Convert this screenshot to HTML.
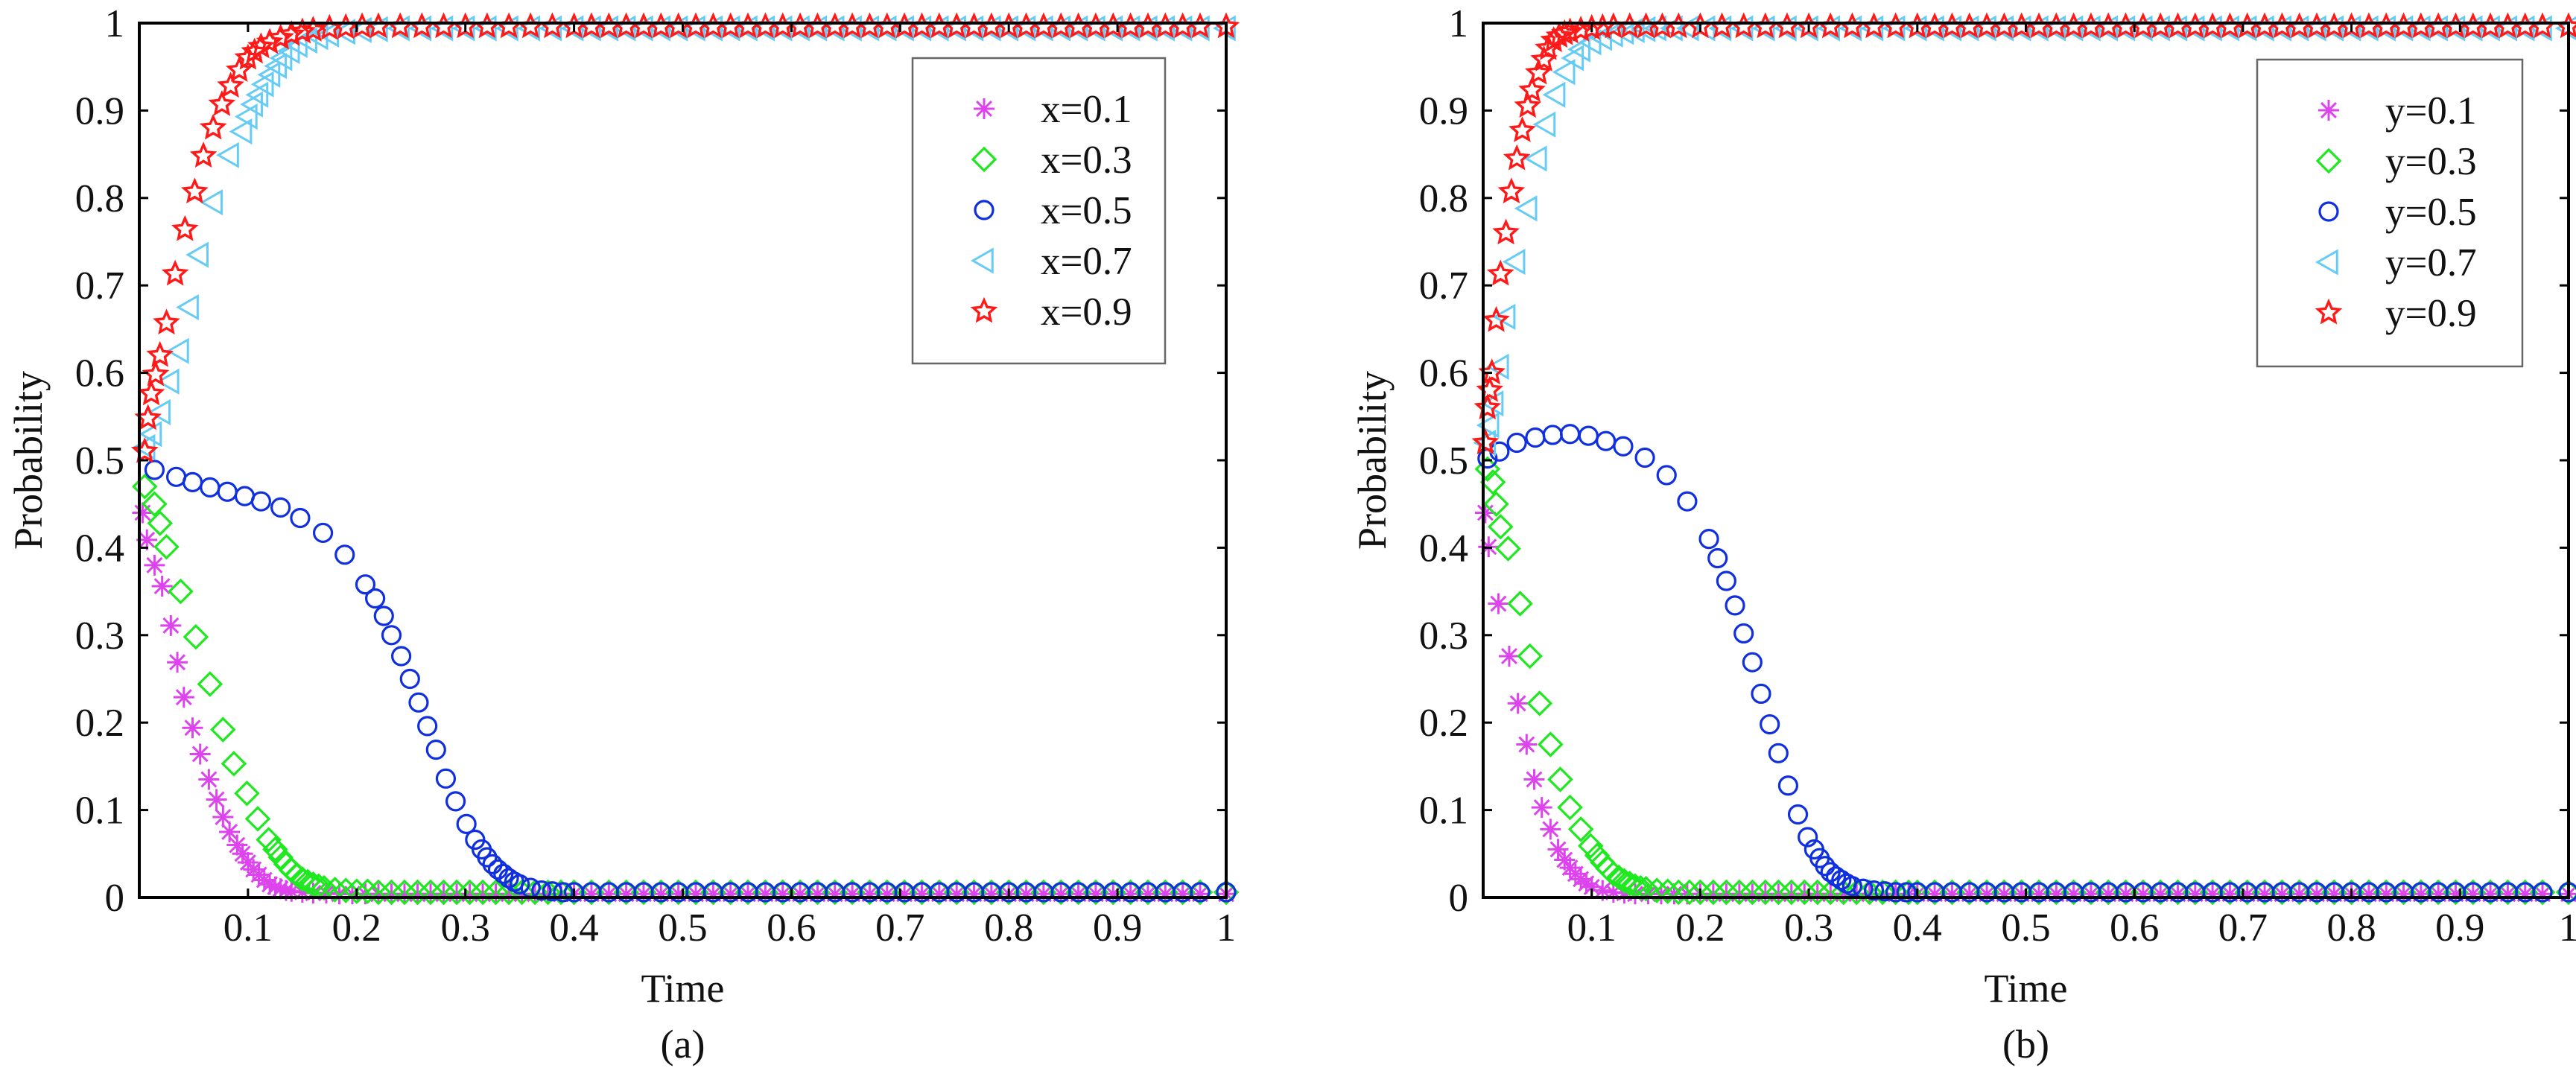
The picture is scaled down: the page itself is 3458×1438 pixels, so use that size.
<!DOCTYPE html>
<html><head><meta charset="utf-8"><style>
html,body{margin:0;padding:0;background:#fff;}
svg{display:block;font-family:"Liberation Serif","Times New Roman",serif;}
</style></head><body>
<svg id="fig" width="3458" height="1438" viewBox="0 0 3458 1438" xmlns="http://www.w3.org/2000/svg">
<rect width="3458" height="1438" fill="#fff"/>
<g id="panelA"></g>
<g id="panelB"></g>
</svg>
<script>
// ---- shared axis ticks ----
const xTicks = [0.1,0.2,0.3,0.4,0.5,0.6,0.7,0.8,0.9,1];
const xTickLabels = ["0.1","0.2","0.3","0.4","0.5","0.6","0.7","0.8","0.9","1"];
const yTicks = [0,0.1,0.2,0.3,0.4,0.5,0.6,0.7,0.8,0.9,1];
const yTickLabels = ["0","0.1","0.2","0.3","0.4","0.5","0.6","0.7","0.8","0.9","1"];
const tailTimes = [0.400,0.416,0.432,0.448,0.464,0.480,0.496,0.512,0.528,0.544,0.560,0.576,0.592,0.608,0.624,0.640,0.656,0.672,0.688,0.704,0.720,0.736,0.752,0.768,0.784,0.800,0.816,0.832,0.848,0.864,0.880,0.896,0.912,0.928,0.944,0.960,0.976,1.000];

// ---- panel (a) data ----
const aLabels = ["x=0.1","x=0.3","x=0.5","x=0.7","x=0.9"];
const aT01 = [0.003,0.007,0.014,0.021,0.029,0.035,0.041,0.049,0.056,0.064,0.071,0.077,0.083,0.09,0.095,0.1,0.105,0.11,0.115,0.12,0.125,0.13,0.135,0.14,0.15,0.16,0.172,0.184,0.196,0.208,0.22,0.232,0.244,0.256,0.268,0.28,0.292,0.304,0.316,0.328,0.34,0.352,0.364,0.376,0.388];
const aP01 = [0.44,0.409,0.38,0.356,0.311,0.269,0.229,0.194,0.164,0.135,0.112,0.092,0.075,0.06,0.05,0.04,0.032,0.026,0.02,0.015,0.012,0.01,0.008,0.007,0.006,0.005,0.005,0.004,0.004,0.004,0.004,0.004,0.004,0.004,0.004,0.004,0.004,0.004,0.004,0.004,0.004,0.004,0.004,0.004,0.004];
const aTail01 = 0.004;
const aT03 = [0.005,0.014,0.019,0.025,0.038,0.052,0.065,0.077,0.087,0.099,0.109,0.119,0.125,0.13,0.135,0.14,0.145,0.15,0.155,0.16,0.165,0.17,0.18,0.19,0.2,0.21,0.22,0.232,0.244,0.256,0.268,0.28,0.292,0.304,0.316,0.328,0.34,0.352,0.364,0.376,0.388];
const aP03 = [0.47,0.45,0.428,0.401,0.35,0.298,0.244,0.192,0.153,0.119,0.09,0.066,0.055,0.046,0.038,0.031,0.026,0.021,0.018,0.015,0.013,0.011,0.009,0.008,0.007,0.007,0.006,0.006,0.006,0.006,0.006,0.006,0.006,0.006,0.006,0.006,0.006,0.006,0.006,0.006,0.006];
const aTail03 = 0.006;
const aT05 = [0.014,0.034,0.049,0.065,0.081,0.097,0.112,0.13,0.148,0.169,0.189,0.208,0.217,0.225,0.232,0.241,0.249,0.257,0.265,0.273,0.282,0.291,0.301,0.309,0.315,0.32,0.325,0.33,0.335,0.34,0.345,0.35,0.36,0.37,0.38,0.39];
const aP05 = [0.489,0.481,0.475,0.469,0.464,0.459,0.453,0.446,0.434,0.417,0.392,0.358,0.342,0.322,0.3,0.276,0.25,0.223,0.196,0.169,0.136,0.11,0.084,0.066,0.055,0.046,0.038,0.032,0.027,0.022,0.018,0.015,0.011,0.008,0.007,0.006];
const aTail05 = 0.006;
const aT07 = [0.006,0.012,0.02,0.028,0.037,0.046,0.055,0.068,0.083,0.095,0.1,0.105,0.11,0.115,0.121,0.127,0.132,0.139,0.146,0.155,0.165,0.175,0.19,0.205,0.22,0.24,0.26,0.28,0.3,0.32,0.34,0.36,0.38];
const aP07 = [0.515,0.53,0.555,0.59,0.625,0.675,0.735,0.795,0.849,0.876,0.893,0.907,0.918,0.93,0.941,0.951,0.96,0.968,0.975,0.98,0.984,0.987,0.99,0.992,0.993,0.994,0.994,0.994,0.994,0.994,0.994,0.994,0.994];
const aTail07 = 0.994;
const aT09 = [0.005,0.008,0.011,0.015,0.019,0.025,0.033,0.042,0.051,0.059,0.068,0.076,0.084,0.092,0.1,0.106,0.112,0.12,0.13,0.14,0.15,0.16,0.175,0.19,0.205,0.22,0.24,0.26,0.28,0.3,0.32,0.34,0.36,0.38];
const aP09 = [0.51,0.548,0.576,0.598,0.62,0.657,0.713,0.764,0.807,0.848,0.88,0.907,0.928,0.946,0.96,0.967,0.973,0.978,0.983,0.987,0.99,0.992,0.994,0.995,0.996,0.996,0.996,0.996,0.996,0.996,0.996,0.996,0.996,0.996];
const aTail09 = 0.996;

// ---- panel (b) data ----
const bLabels = ["y=0.1","y=0.3","y=0.5","y=0.7","y=0.9"];
const bT01 = [0.002,0.005,0.014,0.024,0.032,0.04,0.047,0.054,0.062,0.069,0.075,0.08,0.085,0.09,0.095,0.1,0.11,0.12,0.13,0.14,0.152,0.164,0.176,0.188,0.2,0.212,0.224,0.236,0.248,0.26,0.272,0.284,0.296,0.308,0.32,0.332,0.344,0.356,0.368,0.38,0.392];
const bP01 = [0.44,0.401,0.336,0.276,0.222,0.175,0.135,0.103,0.078,0.055,0.043,0.034,0.027,0.021,0.016,0.012,0.008,0.006,0.005,0.004,0.004,0.004,0.004,0.004,0.004,0.004,0.004,0.004,0.004,0.004,0.004,0.004,0.004,0.004,0.004,0.004,0.004,0.004,0.004,0.004,0.004];
const bTail01 = 0.004;
const bT03 = [0.004,0.009,0.012,0.016,0.023,0.034,0.043,0.052,0.062,0.071,0.08,0.09,0.099,0.105,0.11,0.115,0.12,0.125,0.13,0.135,0.14,0.145,0.15,0.16,0.17,0.18,0.19,0.2,0.212,0.224,0.236,0.248,0.26,0.272,0.284,0.296,0.308,0.32,0.332,0.344,0.356,0.368,0.38,0.392];
const bP03 = [0.49,0.475,0.45,0.424,0.399,0.336,0.276,0.222,0.175,0.135,0.103,0.078,0.059,0.048,0.04,0.033,0.027,0.023,0.019,0.016,0.013,0.011,0.01,0.008,0.007,0.006,0.006,0.006,0.006,0.006,0.006,0.006,0.006,0.006,0.006,0.006,0.006,0.006,0.006,0.006,0.006,0.006,0.006,0.006];
const bTail03 = 0.006;
const bT05 = [0.004,0.015,0.031,0.048,0.064,0.08,0.097,0.113,0.129,0.149,0.169,0.188,0.208,0.216,0.224,0.232,0.24,0.248,0.256,0.264,0.272,0.281,0.29,0.299,0.305,0.31,0.315,0.32,0.325,0.33,0.335,0.34,0.35,0.36,0.37,0.38,0.39];
const bP05 = [0.502,0.51,0.52,0.526,0.529,0.53,0.528,0.522,0.516,0.503,0.483,0.453,0.41,0.388,0.362,0.334,0.302,0.269,0.233,0.198,0.165,0.128,0.095,0.069,0.055,0.045,0.036,0.029,0.024,0.02,0.016,0.013,0.01,0.008,0.007,0.006,0.006];
const bTail05 = 0.006;
const bT07 = [0.003,0.006,0.01,0.015,0.021,0.03,0.041,0.05,0.058,0.067,0.076,0.084,0.09,0.1,0.11,0.12,0.13,0.14,0.15,0.16,0.175,0.19,0.205,0.22,0.24,0.26,0.28,0.3,0.32,0.34,0.36,0.38];
const bP07 = [0.52,0.54,0.565,0.607,0.664,0.727,0.788,0.845,0.884,0.918,0.944,0.96,0.97,0.978,0.983,0.987,0.99,0.992,0.993,0.994,0.994,0.994,0.994,0.994,0.994,0.994,0.994,0.994,0.994,0.994,0.994,0.994];
const bTail07 = 0.994;
const bT09 = [0.002,0.004,0.006,0.008,0.012,0.016,0.021,0.026,0.031,0.036,0.041,0.045,0.051,0.056,0.06,0.065,0.07,0.075,0.08,0.09,0.1,0.11,0.12,0.135,0.15,0.165,0.18,0.2,0.22,0.24,0.26,0.28,0.3,0.32,0.34,0.36,0.38];
const bP09 = [0.52,0.56,0.58,0.6,0.66,0.713,0.76,0.807,0.845,0.877,0.905,0.923,0.943,0.958,0.971,0.98,0.985,0.988,0.99,0.992,0.994,0.995,0.996,0.996,0.996,0.996,0.996,0.996,0.996,0.996,0.996,0.996,0.996,0.996,0.996,0.996,0.996];
const bTail09 = 0.996;

const colors = ["#dd44ee","#1ee81e","#1030e0","#66ccf5","#ff1a1a"];
const markers = ["asterisk","diamond","circle","triangle","star"];
const NS = "http://www.w3.org/2000/svg";

function mk(tag, attrs, parent){
  const e = document.createElementNS(NS, tag);
  for (const k in attrs) e.setAttribute(k, attrs[k]);
  parent.appendChild(e);
  return e;
}

function drawMarker(kind, cx, cy, color, parent){
  let e;
  if (kind === "circle") {
    e = mk("circle", {cx:cx, cy:cy, r:12, fill:"none", stroke:color, "stroke-width":3.2}, parent);
  } else if (kind === "diamond") {
    const s = 15;
    e = mk("polygon", {points:`${cx},${cy-s} ${cx+s},${cy} ${cx},${cy+s} ${cx-s},${cy}`, fill:"none", stroke:color, "stroke-width":3.2}, parent);
  } else if (kind === "triangle") {
    const s = 15;
    e = mk("polygon", {points:`${cx-s},${cy} ${cx+s*0.75},${cy-s} ${cx+s*0.75},${cy+s}`, fill:"none", stroke:color, "stroke-width":3}, parent);
  } else if (kind === "star") {
    let pts = [];
    for (let i=0;i<10;i++){
      const r = i%2===0 ? 15 : 7;
      const a = -Math.PI/2 + i*Math.PI/5;
      pts.push((cx + r*Math.cos(a)).toFixed(1)+","+(cy + r*Math.sin(a)).toFixed(1));
    }
    e = mk("polygon", {points:pts.join(" "), fill:"none", stroke:color, "stroke-width":3.4, "stroke-linejoin":"miter"}, parent);
  } else {
    const s = 14, d = s*0.707;
    e = mk("path", {d:`M${cx-s},${cy}H${cx+s}M${cx},${cy-s}V${cy+s}M${cx-d},${cy-d}L${cx+d},${cy+d}M${cx-d},${cy+d}L${cx+d},${cy-d}`, stroke:color, "stroke-width":3, fill:"none"}, parent);
  }
  return e;
}

function drawPanel(g, box, labels, seriesT, seriesP, tails, legendBox, caption){
  const xs = t => box.x0 + (box.x1 - box.x0) * t;
  const ys = p => box.y1 - (box.y1 - box.y0) * p;

  // series
  for (let s=0; s<seriesT.length; s++){
    const sg = mk("g", {}, g);
    
    
    const T = seriesT[s], P = seriesP[s];
    for (let i=0;i<T.length;i++){
      const m = drawMarker(markers[s], xs(T[i]), ys(P[i]), colors[s], sg);
      
      
    }
    for (let i=0;i<tailTimes.length;i++){
      const m = drawMarker(markers[s], xs(tailTimes[i]), ys(tails[s]), colors[s], sg);
      
      
    }
  }

  // white mask outside axes so markers get clipped like matlab
  const ax = mk("g", {}, g);
  
  
  mk("rect", {x:box.x0, y:box.y0, width:box.x1-box.x0, height:box.y1-box.y0, fill:"none", stroke:"#000", "stroke-width":4}, ax);

  // ticks
  for (let i=0;i<xTicks.length;i++){
    const x = xs(xTicks[i]);
    if (xTicks[i] < 1) {
      mk("line", {x1:x, y1:box.y1, x2:x, y2:box.y1-12, stroke:"#000", "stroke-width":3}, ax);
      mk("line", {x1:x, y1:box.y0, x2:x, y2:box.y0+12, stroke:"#000", "stroke-width":3}, ax);
    }
    const t = mk("text", {x:x, y:box.y1+58, "text-anchor":"middle", "font-size":53, fill:"#111"}, ax);
    t.textContent = xTickLabels[i];
    
    
  }
  for (let i=0;i<yTicks.length;i++){
    const y = ys(yTicks[i]);
    if (yTicks[i] > 0 && yTicks[i] < 1) {
      mk("line", {x1:box.x0, y1:y, x2:box.x0+12, y2:y, stroke:"#000", "stroke-width":3}, ax);
      mk("line", {x1:box.x1, y1:y, x2:box.x1-12, y2:y, stroke:"#000", "stroke-width":3}, ax);
    }
    const t = mk("text", {x:box.x0-20, y:y+18, "text-anchor":"end", "font-size":53, fill:"#111"}, ax);
    t.textContent = yTickLabels[i];
    
    
  }

  const xt = mk("text", {x:(box.x0+box.x1)/2, y:box.y1+140, "text-anchor":"middle", "font-size":54, fill:"#111"}, g);
  xt.textContent = "Time";
  
  
  const yt = mk("text", {x:0, y:0, "text-anchor":"middle", "font-size":54, fill:"#111", transform:`translate(${box.x0-131},${(box.y0+box.y1)/2}) rotate(-90)`}, g);
  yt.textContent = "Probability";
  
  
  const cap = mk("text", {x:(box.x0+box.x1)/2, y:box.y1+215, "text-anchor":"middle", "font-size":54, fill:"#111"}, g);
  cap.textContent = caption;
  
  

  // legend
  const lg = mk("g", {}, g);
  
  
  mk("rect", {x:legendBox.x, y:legendBox.y, width:legendBox.w, height:legendBox.h, fill:"#fff", stroke:"#666", "stroke-width":2.5}, lg);
  for (let s=0;s<labels.length;s++){
    const cy = legendBox.y + 68 + s*68;
    const le = mk("g", {}, lg);
    
    
    drawMarker(markers[s], legendBox.x + 96, cy, colors[s], le);
    const t = mk("text", {x:legendBox.x + 172, y:cy+18, "font-size":53, fill:"#111"}, le);
    t.textContent = labels[s];
  }
}

drawPanel(document.getElementById("panelA"),
  {x0:187, x1:1646, y0:31, y1:1205},
  aLabels, [aT01,aT03,aT05,aT07,aT09], [aP01,aP03,aP05,aP07,aP09],
  [aTail01,aTail03,aTail05,aTail07,aTail09],
  {x:1225, y:78, w:339, h:410}, "(a)");

drawPanel(document.getElementById("panelB"),
  {x0:1991, x1:3448, y0:31, y1:1205},
  bLabels, [bT01,bT03,bT05,bT07,bT09], [bP01,bP03,bP05,bP07,bP09],
  [bTail01,bTail03,bTail05,bTail07,bTail09],
  {x:3030, y:80, w:356, h:412}, "(b)");
</script>
</body></html>
